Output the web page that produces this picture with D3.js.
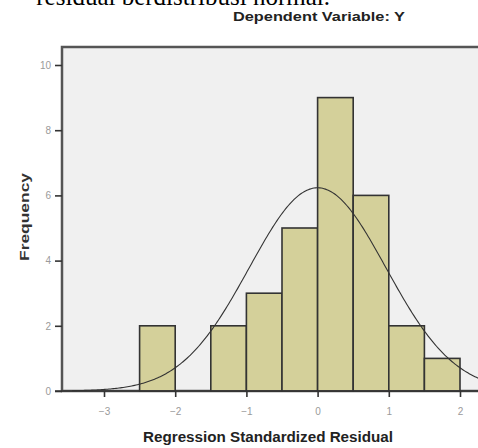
<!DOCTYPE html>
<html>
<head>
<meta charset="utf-8">
<script src="https://cdn.jsdelivr.net/npm/d3@7"></script>
<style>
  html, body { margin: 0; padding: 0; background: #fff; }
  svg { display: block; }
</style>
</head>
<body>
<svg id="chart" width="478" height="448"></svg>
<script>
// Histogram of regression standardized residuals
const binLow  = [-2.5, -1.5, -1.0, -0.5, 0.0, 0.5, 1.0, 1.5];
const binHigh = [-2.0, -1.0, -0.5,  0.0, 0.5, 1.0, 1.5, 2.0];
const counts  = [2, 2, 3, 5, 9, 6, 2, 1];
const xTicks  = [-3, -2, -1, 0, 1, 2];
const yTicks  = [0, 2, 4, 6, 8, 10];
// Fitted normal curve parameters
const residMean = 0.0;
const residSD = 0.96;
const curveStart = -3.45;
const curveEnd = 2.7;

const svg = d3.select("#chart");

const x = d3.scaleLinear().domain([-3, 2]).range([104, 460]);
const y = d3.scaleLinear().domain([0, 10]).range([391, 65]);

// running text above the chart (partly cut off)
svg.append("text")
  .attr("x", 330).attr("y", 5)
  .attr("text-anchor", "end")
  .attr("font-family", "'Liberation Serif', 'Times New Roman', serif")
  .attr("font-size", 25)
  .attr("fill", "#000")
  .text("residual berdistribusi normal.");

svg.append("text")
  .attr("x", 233).attr("y", 21)
  .attr("font-family", "'Liberation Sans', Arial, sans-serif")
  .attr("font-size", 13)
  .attr("font-weight", "bold")
  .attr("fill", "#222")
  .attr("textLength", 172)
  .attr("lengthAdjust", "spacingAndGlyphs")
  .text("Dependent Variable: Y");

// plot area background and frame
svg.append("rect")
  .attr("x", 62).attr("y", 47)
  .attr("width", 440).attr("height", 344)
  .attr("fill", "#f0f0f0")
  .attr("stroke", "#555")
  .attr("stroke-width", 2.5);

// bars
svg.append("g").selectAll("rect")
  .data(counts)
  .join("rect")
  .attr("x", (d, i) => x(binLow[i]))
  .attr("width", (d, i) => x(binHigh[i]) - x(binLow[i]))
  .attr("y", d => y(d))
  .attr("height", d => y(0) - y(d))
  .attr("fill", "#d4d09a")
  .attr("stroke", "#333")
  .attr("stroke-width", 1.6);

// normal curve scaled to counts
const n = d3.sum(counts);
const bw = binHigh[0] - binLow[0];
const curvePts = d3.range(curveStart, curveEnd + 1e-9, 0.02).map(v => {
  const z = (v - residMean) / residSD;
  const dens = Math.exp(-0.5 * z * z) / (Math.sqrt(2 * Math.PI) * residSD);
  return [v, n * bw * dens];
});
svg.append("path")
  .datum(curvePts)
  .attr("fill", "none")
  .attr("stroke", "#333")
  .attr("stroke-width", 1.1)
  .attr("d", d3.line().x(d => x(d[0])).y(d => y(d[1])));

// axes
const xAxis = svg.append("g")
  .attr("transform", "translate(0,391)")
  .call(d3.axisBottom(x).tickValues(xTicks).tickSize(6).tickPadding(11).tickFormat(d3.format("d")));
xAxis.select(".domain").remove();
xAxis.selectAll(".tick line").attr("stroke", "#333").attr("stroke-width", 1.6);
xAxis.selectAll("text")
  .attr("fill", "#9a9a9a")
  .attr("font-family", "'Liberation Sans', Arial, sans-serif")
  .attr("font-size", 10);

const yAxis = svg.append("g")
  .attr("transform", "translate(62,0)")
  .call(d3.axisLeft(y).tickValues(yTicks).tickSize(7).tickPadding(4).tickFormat(d3.format("d")));
yAxis.select(".domain").remove();
yAxis.selectAll(".tick line").attr("stroke", "#333").attr("stroke-width", 1.6);
yAxis.selectAll("text")
  .attr("fill", "#9a9a9a")
  .attr("font-family", "'Liberation Sans', Arial, sans-serif")
  .attr("font-size", 10);

// baseline along the bottom of the plot
svg.append("line")
  .attr("x1", 55).attr("x2", 478)
  .attr("y1", 391).attr("y2", 391)
  .attr("stroke", "#333").attr("stroke-width", 1.6);

// axis titles
svg.append("text")
  .attr("x", 268).attr("y", 442)
  .attr("text-anchor", "middle")
  .attr("font-family", "'Liberation Sans', Arial, sans-serif")
  .attr("font-size", 14)
  .attr("font-weight", "bold")
  .attr("fill", "#222")
  .attr("textLength", 250)
  .attr("lengthAdjust", "spacingAndGlyphs")
  .text("Regression Standardized Residual");

svg.append("text")
  .attr("transform", "translate(29,217) rotate(-90)")
  .attr("text-anchor", "middle")
  .attr("font-family", "'Liberation Sans', Arial, sans-serif")
  .attr("font-size", 13)
  .attr("font-weight", "bold")
  .attr("fill", "#333")
  .attr("textLength", 88)
  .attr("lengthAdjust", "spacingAndGlyphs")
  .text("Frequency");
</script>
</body>
</html>
